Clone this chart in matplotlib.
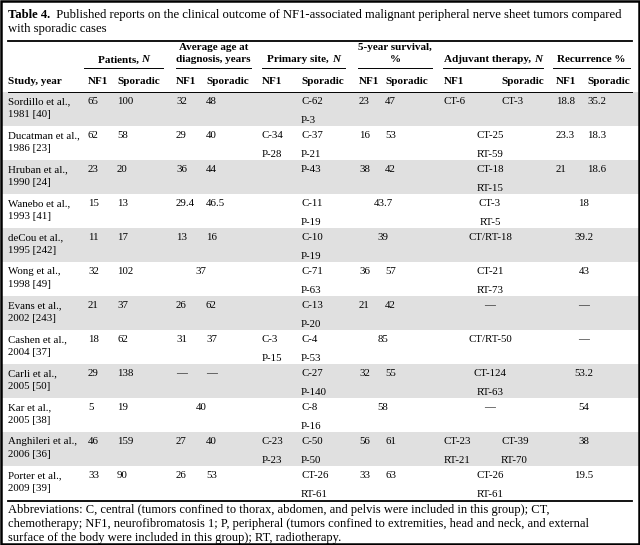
import matplotlib
matplotlib.use('Agg')
import matplotlib.pyplot as plt
from matplotlib.patches import Rectangle

# ---------------- data ----------------
studies = ["Sordillo et al.,\n1981 [40]", "Ducatman et al.,\n1986 [23]", "Hruban et al.,\n1990 [24]",
           "Wanebo et al.,\n1993 [41]", "deCou et al.,\n1995 [242]", "Wong et al.,\n1998 [49]",
           "Evans et al.,\n2002 [243]", "Cashen et al.,\n2004 [37]", "Carli et al.,\n2005 [50]",
           "Kar et al.,\n2005 [38]", "Anghileri et al.,\n2006 [36]", "Porter et al.,\n2009 [39]"]

patients_nf1 = ["65", "62", "23", "15", "11", "32", "21", "18", "29", "5", "46", "33"]
patients_spor = ["100", "58", "20", "13", "17", "102", "37", "62", "138", "19", "159", "90"]

age_nf1 = ["32", "29", "36", "29.4", "13", None, "26", "31", "\u2014", None, "27", "26"]
age_spor = ["48", "40", "44", "46.5", "16", None, "62", "37", "\u2014", None, "40", "53"]
age_merged = [None, None, None, None, None, "37", None, None, None, "40", None, None]

site_nf1 = [None, "C-34\nP-28", None, None, None, None, None, "C-3\nP-15", None, None, "C-23\nP-23", None]
site_spor = ["C-62\nP-3", "C-37\nP-21", "P-43", "C-11\nP-19", "C-10\nP-19", "C-71\nP-63", "C-13\nP-20",
             "C-4\nP-53", "C-27\nP-140", "C-8\nP-16", "C-50\nP-50", "CT-26\nRT-61"]

surv_nf1 = ["23", "16", "38", None, None, "36", "21", None, "32", None, "56", "33"]
surv_spor = ["47", "53", "42", None, None, "57", "42", None, "55", None, "61", "63"]
surv_merged = [None, None, None, "43.7", "39", None, None, "85", None, "58", None, None]

adj_nf1 = ["CT-6", None, None, None, None, None, None, None, None, None, "CT-23\nRT-21", None]
adj_spor = ["CT-3", None, None, None, None, None, None, None, None, None, "CT-39\nRT-70", None]
adj_merged = [None, "CT-25\nRT-59", "CT-18\nRT-15", "CT-3\nRT-5", "CT/RT-18", "CT-21\nRT-73", "\u2014",
              "CT/RT-50", "CT-124\nRT-63", "\u2014", None, "CT-26\nRT-61"]

rec_nf1 = ["18.8", "23.3", "21", None, None, None, None, None, None, None, None, None]
rec_spor = ["35.2", "18.3", "18.6", None, None, None, None, None, None, None, None, None]
rec_merged = [None, None, None, "18", "39.2", "43", "\u2014", "\u2014", "53.2", "54", "38", "19.5"]

groups = ["Patients, |N|", "Average age at\ndiagnosis, years", "Primary site, |N|",
          "5-year survival,\n%", "Adjuvant therapy, |N|", "Recurrence %"]
subheaders = ["NF1", "Sporadic"]

title_bold = "Table 4."
title_lines = ["  Published reports on the clinical outcome of NF1-associated malignant peripheral nerve sheet tumors compared",
               "with sporadic cases"]
footnote = ["Abbreviations: C, central (tumors confined to thorax, abdomen, and pelvis were included in this group); CT,",
            "chemotherapy; NF1, neurofibromatosis 1; P, peripheral (tumors confined to extremities, head and neck, and external",
            "surface of the body were included in this group); RT, radiotherapy."]

# ---------------- layout ----------------
W, H = 640, 545
FONT = 'Liberation Serif'
BODY = 7.8
HEAD = 8.0
TITLE = 9.1
FOOT = 9.0
SHADE = '#e0e0e0'

fig = plt.figure(figsize=(6.4, 5.45), dpi=100)
ax = fig.add_axes([0, 0, 1, 1])
ax.set_xlim(0, W)
ax.set_ylim(H, 0)
ax.axis('off')
renderer = fig.canvas.get_renderer()


def text_width(s, **kw):
    t = ax.text(0, 0, s, fontfamily=FONT, **kw)
    w = t.get_window_extent(renderer).width
    t.remove()
    return w


def runs_text(x, y, s, size, weight='normal', ha='left'):
    """Text with |...| segments set in italics."""
    parts = s.split('|')
    ws = [text_width(p, fontsize=size, fontweight=weight,
                     fontstyle='italic' if i % 2 else 'normal') for i, p in enumerate(parts)]
    total = sum(ws)
    x0 = x - total / 2 if ha == 'center' else x
    for i, p in enumerate(parts):
        ax.text(x0, y, p, fontfamily=FONT, fontsize=size, fontweight=weight,
                fontstyle='italic' if i % 2 else 'normal', va='center', ha='left')
        x0 += ws[i]


# column x positions (left edges) and group spans
col_x = [(88, 117), (176, 206), (262, 301), (359, 385), (444, 501), (556, 587)]
spans = [(84, 163), (176, 251), (262, 345), (358, 432), (443, 543), (553, 630)]
merged_x = {1: 201, 3: 383, 4: 490, 5: 584}

TOP0 = 92
RH = 34
LINE_GAP = 19
STUDY_GAP = 13
FIRST = 9.5

# shading
for i in range(len(studies)):
    if i % 2 == 0:
        ax.add_patch(Rectangle((1, TOP0 + i * RH), W - 2, RH, color=SHADE, lw=0, zorder=0))

# title
ax.text(8, 15, title_bold, fontfamily=FONT, fontsize=TITLE, fontweight='bold', va='center')
bw = text_width(title_bold, fontsize=TITLE, fontweight='bold')
ax.text(8 + bw, 15, title_lines[0], fontfamily=FONT, fontsize=TITLE, va='center')
ax.text(8, 29, title_lines[1], fontfamily=FONT, fontsize=TITLE, va='center')

# rules
ax.plot([8, 632], [41, 41], color='black', lw=1.3)
ax.plot([8, 632], [92, 92], color='black', lw=0.7)
ax.plot([8, 632], [501, 501], color='black', lw=1.3)

# group headers
for g, (a, b) in zip(groups, spans):
    cx = (a + b) / 2
    lines = g.split('\n')
    if len(lines) == 2:
        runs_text(cx, 48, lines[0], HEAD, 'bold', 'center')
        runs_text(cx, 60, lines[1], HEAD, 'bold', 'center')
    else:
        runs_text(cx, 60, lines[0], HEAD, 'bold', 'center')
    ax.plot([a, b], [68, 68], color='black', lw=0.7)

# column headers
ax.text(8, 81, "Study, year", fontfamily=FONT, fontsize=HEAD, fontweight='bold', va='center')
for (xa, xb) in col_x:
    ax.text(xa, 81, subheaders[0], fontfamily=FONT, fontsize=HEAD, fontweight='bold', va='center')
    ax.text(xb, 81, subheaders[1], fontfamily=FONT, fontsize=HEAD, fontweight='bold', va='center')


def cell(x, top, val, ha='left'):
    if val is None:
        return
    for k, line in enumerate(val.split('\n')):
        ax.text(x, top + FIRST + k * LINE_GAP, line, fontfamily=FONT, fontsize=BODY,
                va='center', ha=ha)


nf1_cols = [patients_nf1, age_nf1, site_nf1, surv_nf1, adj_nf1, rec_nf1]
spor_cols = [patients_spor, age_spor, site_spor, surv_spor, adj_spor, rec_spor]
merged_cols = {1: age_merged, 3: surv_merged, 4: adj_merged, 5: rec_merged}

for i, name in enumerate(studies):
    top = TOP0 + i * RH
    for k, line in enumerate(name.split('\n')):
        ax.text(8, top + FIRST + k * STUDY_GAP, line, fontfamily=FONT, fontsize=BODY, va='center')
    for c in range(6):
        xa, xb = col_x[c]
        cell(xa, top, nf1_cols[c][i])
        cell(xb, top, spor_cols[c][i])
        if c in merged_cols:
            cell(merged_x[c], top, merged_cols[c][i], ha='center')

# footnote
for k, line in enumerate(footnote):
    ax.text(8, 510 + k * 14, line, fontfamily=FONT, fontsize=FOOT, va='center')

# outer frame
ax.add_patch(Rectangle((0.75, 0.75), W - 1.5, H - 1.5, fill=False, ec='black', lw=1.8, zorder=5))

fig.savefig('out.png', dpi=100)
